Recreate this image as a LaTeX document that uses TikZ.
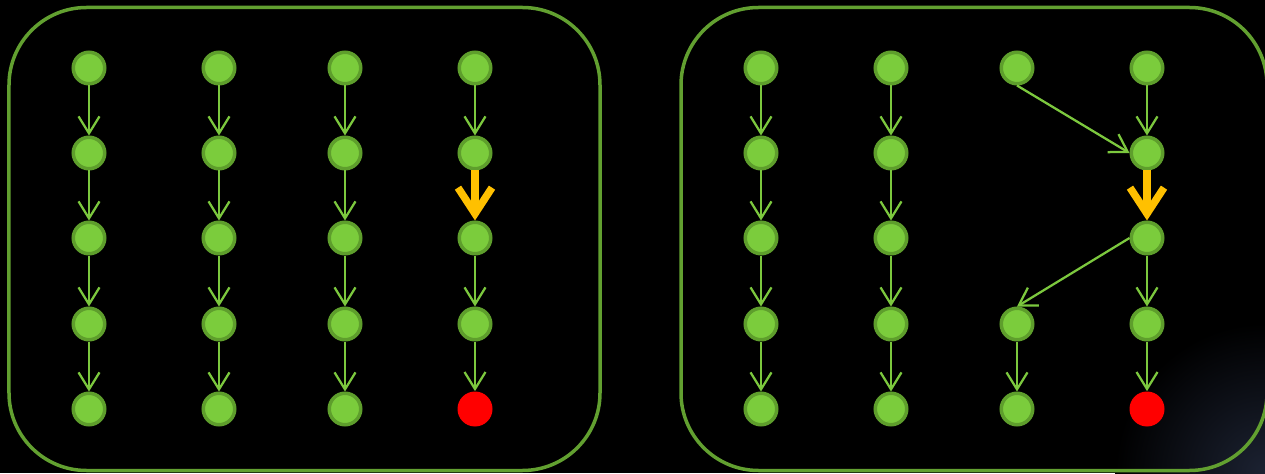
\documentclass[tikz,border=0pt]{standalone}
\usetikzlibrary{arrows.meta}

\definecolor{nodefill}{HTML}{7BCC3C}
\definecolor{nodeline}{HTML}{5E9E2C}
\definecolor{linkgreen}{HTML}{7CC83E}
\definecolor{framegreen}{HTML}{62A030}
\definecolor{amber}{HTML}{FFC000}
\definecolor{glow}{HTML}{1C2232}

\tikzset{
  pt/.style={circle, fill=nodefill, draw=nodeline, line width=0.7mm, minimum size=6.3mm, inner sep=0pt},
  bad/.style={circle, fill=red, minimum size=7mm, inner sep=0pt},
  link/.style={draw=linkgreen, line width=0.45mm, -{Straight Barb[length=3.4mm,width=4.2mm]}},
  jump/.style={draw=amber, line width=1.5mm, -{Straight Barb[length=5.2mm,width=6.8mm]}},
  frame/.style={draw=framegreen, line width=0.7mm, rounded corners=1.55cm}
}

\begin{document}
\begin{tikzpicture}
\useasboundingbox (0,0) rectangle (25.3,9.46);
\fill[black] (0,0) rectangle (25.3,9.46);
\begin{scope}
\clip (0,0) rectangle (25.3,9.46);
\shade[inner color=glow, outer color=black] (25.3,0) circle (3cm);
\end{scope}

% the two boxes
\draw[frame] (0.18,0.05) rectangle (12.0,9.31);
\draw[frame] (13.62,0.05) rectangle (25.34,9.31);

% left box
\node[pt] (l11) at (1.78,8.1) {};
\node[pt] (l12) at (1.78,6.4) {};
\node[pt] (l13) at (1.78,4.7) {};
\node[pt] (l14) at (1.78,2.98) {};
\node[pt] (l15) at (1.78,1.28) {};

\node[pt] (l21) at (4.38,8.1) {};
\node[pt] (l22) at (4.38,6.4) {};
\node[pt] (l23) at (4.38,4.7) {};
\node[pt] (l24) at (4.38,2.98) {};
\node[pt] (l25) at (4.38,1.28) {};

\node[pt] (l31) at (6.9,8.1) {};
\node[pt] (l32) at (6.9,6.4) {};
\node[pt] (l33) at (6.9,4.7) {};
\node[pt] (l34) at (6.9,2.98) {};
\node[pt] (l35) at (6.9,1.28) {};

\node[pt] (l41) at (9.5,8.1) {};
\node[pt] (l42) at (9.5,6.4) {};
\node[pt] (l43) at (9.5,4.7) {};
\node[pt] (l44) at (9.5,2.98) {};
\node[bad] (l45) at (9.5,1.28) {};

\draw[link] (l11) -- (l12);
\draw[link] (l12) -- (l13);
\draw[link] (l13) -- (l14);
\draw[link] (l14) -- (l15);
\draw[link] (l21) -- (l22);
\draw[link] (l22) -- (l23);
\draw[link] (l23) -- (l24);
\draw[link] (l24) -- (l25);
\draw[link] (l31) -- (l32);
\draw[link] (l32) -- (l33);
\draw[link] (l33) -- (l34);
\draw[link] (l34) -- (l35);
\draw[link] (l41) -- (l42);
\draw[jump] (l42) -- (l43);
\draw[link] (l43) -- (l44);
\draw[link] (l44) -- (l45);

% right box
\node[pt] (r11) at (15.22,8.1) {};
\node[pt] (r12) at (15.22,6.4) {};
\node[pt] (r13) at (15.22,4.7) {};
\node[pt] (r14) at (15.22,2.98) {};
\node[pt] (r15) at (15.22,1.28) {};

\node[pt] (r21) at (17.82,8.1) {};
\node[pt] (r22) at (17.82,6.4) {};
\node[pt] (r23) at (17.82,4.7) {};
\node[pt] (r24) at (17.82,2.98) {};
\node[pt] (r25) at (17.82,1.28) {};

\node[pt] (r31) at (20.34,8.1) {};
\node[pt] (r34) at (20.34,2.98) {};
\node[pt] (r35) at (20.34,1.28) {};

\node[pt] (r41) at (22.94,8.1) {};
\node[pt] (r42) at (22.94,6.4) {};
\node[pt] (r43) at (22.94,4.7) {};
\node[pt] (r44) at (22.94,2.98) {};
\node[bad] (r45) at (22.94,1.28) {};

\draw[link] (r11) -- (r12);
\draw[link] (r12) -- (r13);
\draw[link] (r13) -- (r14);
\draw[link] (r14) -- (r15);
\draw[link] (r21) -- (r22);
\draw[link] (r22) -- (r23);
\draw[link] (r23) -- (r24);
\draw[link] (r24) -- (r25);
\draw[link] (r31.south) -- (r42.west);
\draw[link] (r43.west) -- (r34.north);
\draw[link] (r34) -- (r35);
\draw[link] (r41) -- (r42);
\draw[jump] (r42) -- (r43);
\draw[link] (r43) -- (r44);
\draw[link] (r44) -- (r45);
\end{tikzpicture}
\end{document}
